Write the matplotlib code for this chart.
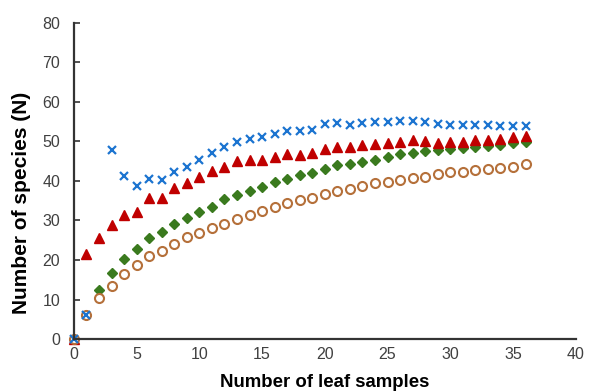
import numpy as np
import matplotlib.pyplot as plt

# nombre d'echantillons de feuilles
samples = list(range(0, 37))

# courbes d'accumulation (4 series)
brown = [0, 6, 10.3, 13.5, 16.5, 18.8, 21.0, 22.3, 24.1, 25.7, 26.9, 28.0, 29.2,
         30.4, 31.4, 32.4, 33.3, 34.5, 35.2, 35.7, 36.7, 37.4, 37.9, 38.7, 39.4,
         39.8, 40.2, 40.8, 41.0, 41.7, 42.2, 42.2, 42.7, 42.9, 43.2, 43.6, 44.2]
green = [0, 6, 12.5, 16.7, 20.2, 22.9, 25.5, 27.1, 29.0, 30.6, 32.2, 33.5, 35.3,
         36.5, 37.5, 38.5, 39.6, 40.5, 41.4, 42.1, 43.0, 43.9, 44.3, 44.8, 45.4,
         46.1, 46.7, 47.1, 47.5, 47.8, 48.0, 48.4, 48.6, 48.9, 49.2, 49.6, 49.9]
red = [0, 21.4, 25.6, 28.9, 31.3, 32.2, 35.7, 35.7, 38.3, 39.5, 41.0, 42.4, 43.6,
       45.1, 45.4, 45.3, 46.1, 46.7, 46.6, 47.1, 48.0, 48.7, 48.5, 49.2, 49.4,
       49.7, 49.9, 50.3, 50.1, 49.6, 49.9, 49.9, 50.3, 50.3, 50.5, 51.1, 51.3]
blue = [0, 6, np.nan, 47.7, 41.3, 38.6, 40.6, 40.2, 42.3, 43.4, 45.3, 47.0, 48.7,
        49.8, 50.7, 51.1, 51.8, 52.7, 52.6, 53.0, 54.3, 54.7, 54.2, 54.6, 55.0,
        54.9, 55.1, 55.1, 54.8, 54.3, 54.2, 54.1, 54.1, 54.1, 54.0, 54.0, 53.8]

xticks = [0, 5, 10, 15, 20, 25, 30, 35, 40]
yticks = [0, 10, 20, 30, 40, 50, 60, 70, 80]

plt.rcParams['font.family'] = ['Liberation Sans', 'DejaVu Sans']

fig = plt.figure(figsize=(5.96, 3.92), dpi=100)
ax = fig.add_axes([0.124, 0.135, 0.842, 0.807])

# ordre de trace : vert, rouge, marron (fond blanc), bleu
ax.plot(samples, green, 'D', ms=5.2, color='#3A7A1E', clip_on=False)
ax.plot(samples, red, '^', ms=7, color='#C00000', clip_on=False)
ax.plot(samples, brown, 'o', ms=6.5, mfc='white', mec='#B5703A', mew=1.5, clip_on=False)
ax.plot(samples, blue, 'x', ms=5.5, mew=1.6, color='#1C74D0', clip_on=False)

ax.set_xlim(0, 40)
ax.set_ylim(0, 80)
ax.set_xticks(xticks)
ax.set_yticks(yticks)

for s in ['top', 'right']:
    ax.spines[s].set_visible(False)
for s in ['left', 'bottom']:
    ax.spines[s].set_linewidth(1.6)
    ax.spines[s].set_color('#333333')

ax.tick_params(axis='x', length=0, pad=6, labelsize=11.5, labelcolor='#404040')
ax.tick_params(axis='y', direction='in', length=4, width=1.2, color='#333333',
               pad=10, labelsize=11.5, labelcolor='#404040')

ax.set_xlabel('Number of leaf samples', fontsize=13.4, fontweight='bold', labelpad=8)
ax.set_ylabel('Number of species (N)', fontsize=15, fontweight='bold')
ax.yaxis.set_label_coords(-0.086, 0.43)

fig.savefig('out.png', dpi=100)
